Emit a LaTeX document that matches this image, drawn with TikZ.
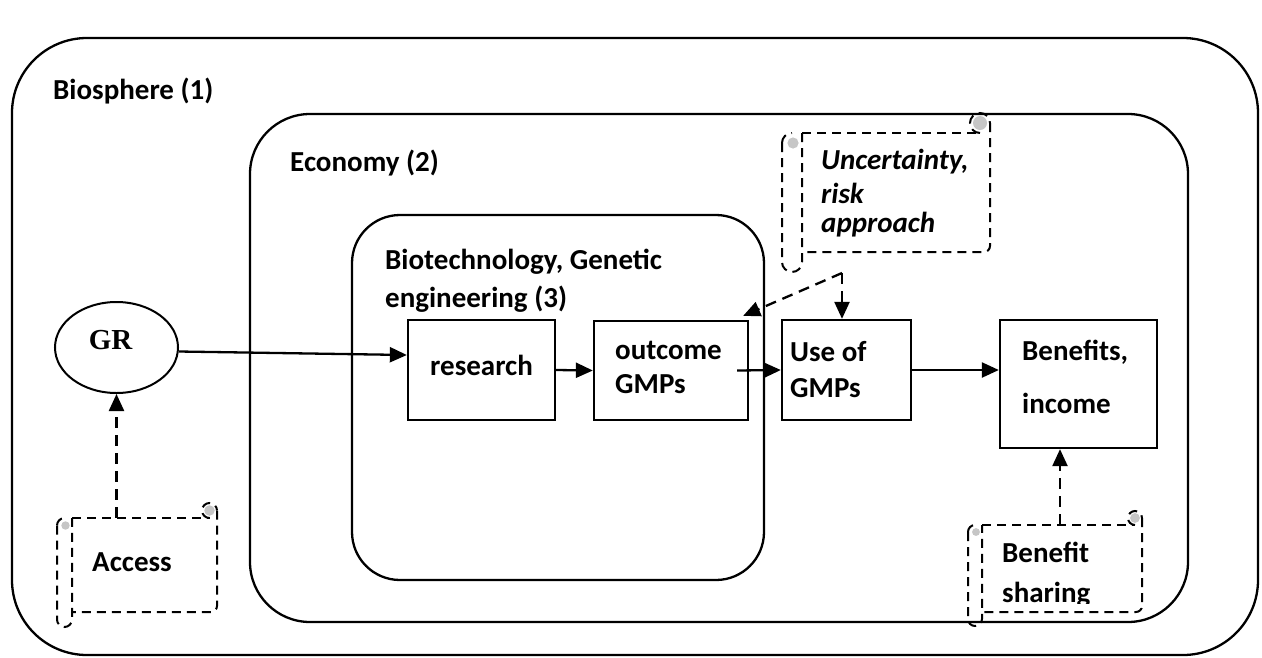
\documentclass[tikz,border=0pt]{standalone}
\usepackage{fontspec}
\setmainfont{Carlito}
\newfontfamily\timesfont{Liberation Serif}
\usetikzlibrary{arrows.meta,fit,shapes.geometric}
\tikzset{
  region/.style={draw, line width=2.3pt, rounded corners=#1, inner sep=0pt},
  box/.style={draw, line width=2.3pt, inner sep=0pt},
  lbl/.style={anchor=base west, inner sep=0pt, font=\fontsize{29}{34}\selectfont\bfseries},
  arr/.style={line width=2.3pt, -{Triangle[length=17pt,width=15pt]}},
  darr/.style={arr, dash pattern=on 11pt off 7pt},
  scrl/.style={line width=2pt, dash pattern=on 9pt off 6pt},
}
\newcommand\hscroll[6]{%
  \coordinate (#1-a) at ({#2+#6},{#3+#6});
  \coordinate (#1-b) at (#4,{#5-#6});
  \node[fit=(#1-a)(#1-b), inner sep=0pt] (#1) {};
  \draw[scrl] ({#2+#6},{#3+#6}) -- ({#4-#6/2},{#3+#6});
  \draw[scrl, rounded corners=6pt] (#4,{#3+#6/2}) -- (#4,{#5-#6}) -- ({#2+#6},{#5-#6});
  \fill[gray!45] ({#4-#6/2},{#3+#6/2}) circle[radius={#6*0.35}];
  \draw[scrl] ({#4-#6/2},{#3+#6}) arc[start angle=90,end angle=360,radius={#6/2}];
  \draw[scrl] (#2,{#3+#6+#6/2}) -- (#2,{#5-#6/2}) arc[start angle=180,end angle=0,radius={#6/2}] -- ({#2+#6},{#3+#6});
  \fill[gray!45] ({#2+#6/2+1},{#3+#6+#6/2}) circle[radius={#6*0.28}];
  \draw[scrl] (#2,{#3+#6+#6/2}) arc[start angle=180,end angle=270,radius={#6/2}];
}
\begin{document}
\begin{tikzpicture}[x=1pt,y=-1pt]
\useasboundingbox (0,0) rectangle (1262,657);
% regions
\node[region=75pt, minimum width=1246pt, minimum height=617pt] (bio) at (635,346.5) {};
\node[region=60pt, minimum width=938pt, minimum height=508pt] (eco) at (719,368) {};
\node[region=48pt, minimum width=412pt, minimum height=365pt] (btech) at (558,397.5) {};
\node[lbl] (bioL) at (53,99) {Biosphere (1)};
\node[lbl] (ecoL) at (290,171) {Economy (2)};
\node[lbl] (btL1) at (385,269) {Biotechnology, Genetic};
\node[lbl] (btL2) at (385,307) {engineering (3)};
% GR
\node[draw, ellipse, line width=2pt, minimum width=123pt, minimum height=91pt, inner sep=0pt] (gr) at (116.5,347.5) {};
\node[anchor=base, inner sep=0pt, font=\timesfont\fontsize{29}{34}\selectfont\bfseries] (grL) at (110.5,349) {GR};
% boxes
\node[box, minimum width=147pt, minimum height=100pt] (research) at (481.5,370) {};
\node[box, minimum width=154pt, minimum height=99pt] (outcome) at (671,370.5) {};
\node[box, minimum width=129pt, minimum height=100pt] (use) at (846.5,370) {};
\node[box, minimum width=157pt, minimum height=128pt] (benefits) at (1078.5,384) {};
\node[lbl] (researchL) at (430,375) {research};
\node[lbl] (outL1) at (615,359) {outcome};
\node[lbl] (outL2) at (615,393) {GMPs};
\node[lbl] (useL1) at (790,361) {Use of};
\node[lbl] (useL2) at (790,397) {GMPs};
\node[lbl] (benL1) at (1022,360) {Benefits,};
\node[lbl] (benL2) at (1022,413) {income};
% scrolls
\hscroll{unc}{782}{113}{990}{272}{20}
\hscroll{acc}{57}{503}{217}{627}{15}
\hscroll{bsh}{968}{511}{1142}{626}{14}
\node[lbl, font=\fontsize{29}{34}\selectfont\bfseries\itshape] (uncL1) at (821,169) {Uncertainty,};
\node[lbl, font=\fontsize{29}{34}\selectfont\bfseries\itshape] (uncL2) at (821,203) {risk};
\node[lbl, font=\fontsize{29}{34}\selectfont\bfseries\itshape] (uncL3) at (821,232) {approach};
\node[lbl] (accL) at (92,571) {Access};
\node[lbl] (bshL1) at (1002,562) {Benefit};
\begin{scope}
  \clip (990,570) rectangle (1140,603);
  \node[lbl] (bshL2) at (1002,602) {sharing};
\end{scope}
% connectors
\draw[arr] ([yshift=-4pt]gr.east) -- ([yshift=15pt]research.west);
\draw[arr] (research.east) -- (outcome.west);
\draw[arr] ([xshift=-12pt]outcome.east) -- (use.west);
\draw[arr] (use.east) -- (use.east -| benefits.west);
\coordinate (u0) at (842,273);
\draw[darr] (u0) -- (u0 |- use.north);
\draw[darr] (u0) -- ([xshift=-6pt,yshift=4pt]outcome.north east);
\draw[darr] (gr.south |- acc.north) -- (gr.south);
\draw[darr] ([xshift=-2pt]bsh.north) -- ([xshift=-2pt]bsh.north |- benefits.south);
\end{tikzpicture}
\end{document}
